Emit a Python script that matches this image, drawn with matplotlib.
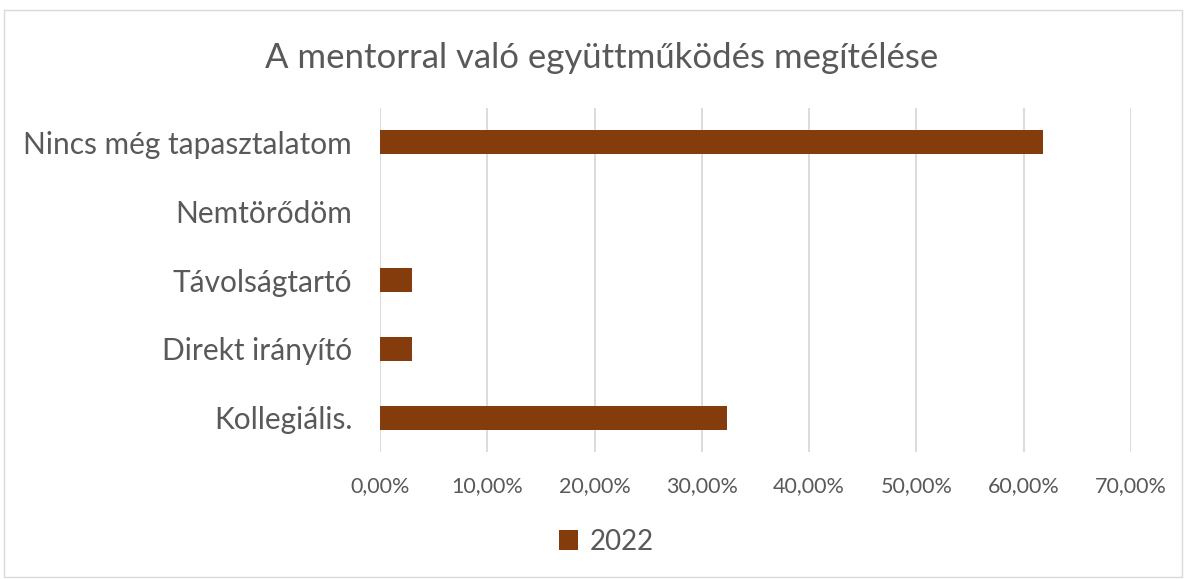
import matplotlib.pyplot as plt
from matplotlib.patches import Rectangle
from matplotlib.ticker import FuncFormatter, MultipleLocator

plt.rcParams['font.family'] = ['Lato', 'DejaVu Sans']

# adatok
kategoriak = ['Kollegiális.', 'Direkt irányító', 'Távolságtartó', 'Nemtörődöm', 'Nincs még tapasztalatom']
ertekek = [32.35, 2.94, 2.94, 0.0, 61.76]
sorozat = '2022'
cim = 'A mentorral való együttműködés megítélése'

szin = '#843C0C'
szurke = '#595959'

fig = plt.figure(figsize=(11.86, 5.79), dpi=100)
ax = fig.add_axes([0.3204, 0.2185, 0.6332, 0.5958])

ax.barh(kategoriak, ertekek, height=0.35, color=szin, label=sorozat)

ax.set_xlim(0, 70)
ax.set_ylim(-0.5, len(kategoriak) - 0.5)
ax.xaxis.set_major_locator(MultipleLocator(10))
ax.xaxis.set_major_formatter(FuncFormatter(lambda v, p: f'{v:.2f}%'.replace('.', ',')))
ax.grid(axis='x', color='#D9D9D9', linewidth=1.3)
ax.set_axisbelow(True)
for s in ax.spines.values():
    s.set_visible(False)
ax.tick_params(axis='both', length=0)
ax.tick_params(axis='x', labelsize=15.5, labelcolor=szurke, pad=17)
ax.tick_params(axis='y', labelsize=21.5, labelcolor=szurke, pad=20)

fig.text(0.507, 0.9, cim, ha='center', va='center', fontsize=25, color=szurke)

fig.legend(loc='center', bbox_to_anchor=(0.511, 0.064), frameon=False, fontsize=20,
           handlelength=0.7, handleheight=0.7, handletextpad=0.4, labelcolor=szurke)

# keret
fig.patches.append(Rectangle((0.003, 0.003), 0.994, 0.98, transform=fig.transFigure,
                             fill=False, edgecolor='#D9D9D9', linewidth=1))

fig.savefig('out.png', dpi=100)
